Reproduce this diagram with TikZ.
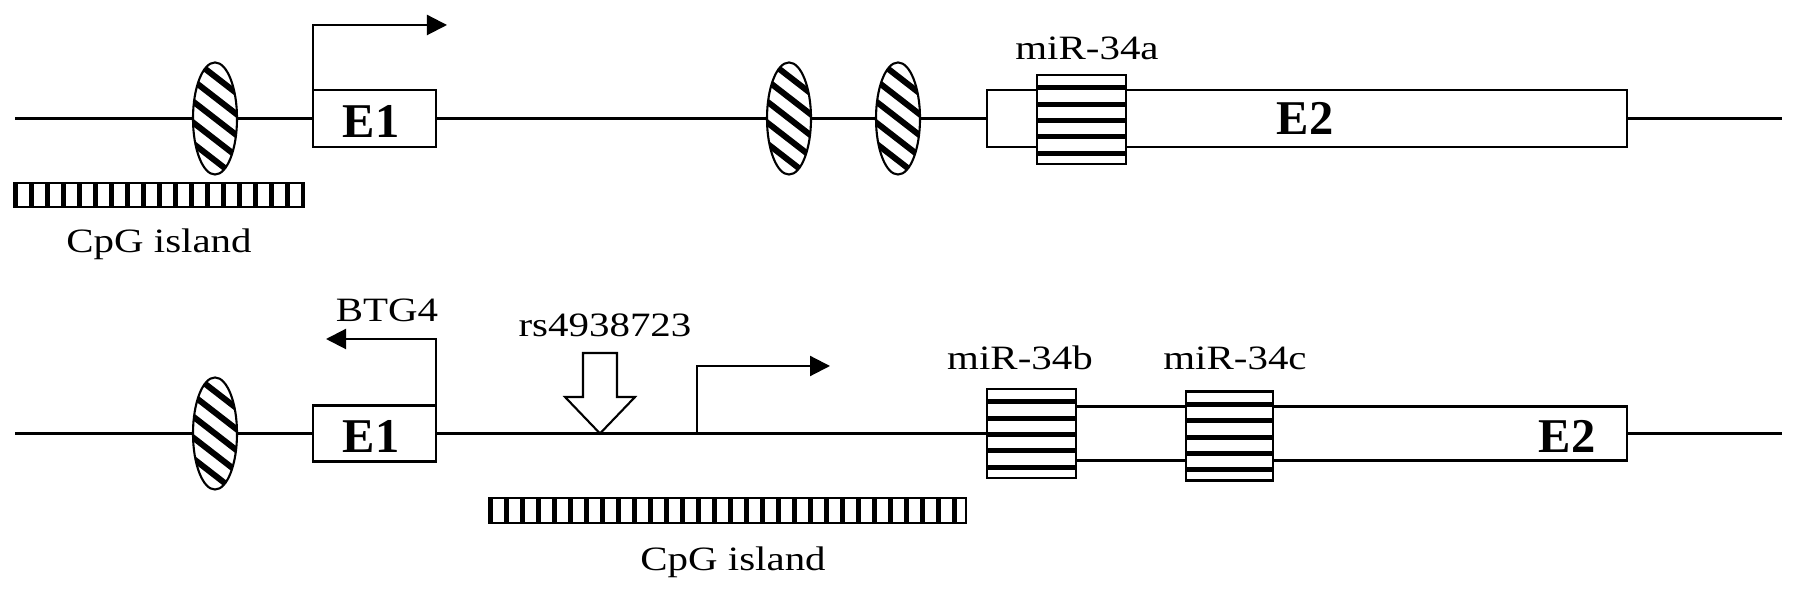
\documentclass[tikz,border=0pt]{standalone}
\usepackage{fontspec}
\setmainfont{Liberation Serif}
\usetikzlibrary{shapes.geometric,arrows.meta,calc}
\newcommand{\lbl}[1]{\scalebox{1.2}[1]{\fontsize{9.7}{11}\selectfont #1}}
\newcommand{\exon}[1]{{\fontsize{13.8}{16}\selectfont\bfseries #1}}
\begin{document}
\begin{tikzpicture}[x=0.01cm,y=-0.01cm,line width=0.6pt,
  gene/.style={draw,fill=white,inner sep=0pt,outer sep=0pt},
  meth/.style={ellipse,draw,fill=white,inner sep=0pt,outer sep=0pt,
    minimum width=0.44cm,minimum height=1.12cm,
    path picture={\begin{scope}[shift={(path picture bounding box.center)}]
      \foreach \k in {-5,...,5} \draw[line width=0.06cm] (-40,\k*21-31) -- (40,\k*21+31);
      \end{scope}}},
  mir/.style={draw,fill=white,inner sep=0pt,outer sep=0pt,minimum width=0.89cm,minimum height=0.89cm,
    path picture={\foreach \k in {0,...,4} \draw[line width=0.05cm]
      ($(path picture bounding box.north west)+(0,13+16.3*\k)$) -- ++(200,0);}},
  cpg/.style={draw,fill=white,inner sep=0pt,outer sep=0pt,minimum height=0.245cm,
    path picture={\foreach \k in {0,...,#1} \draw[line width=0.055cm]
      ($(path picture bounding box.north west)+(\k*16+1.5,-5)$) -- ++(0,40);}},
  tip/.style={-{Triangle[length=0.2cm,width=0.2cm]}},
  txt/.style={anchor=base,inner sep=0pt}]
\useasboundingbox[fill=white] (0,0) rectangle (1795,592);

% ---------- top gene ----------
\coordinate (L1) at (15,118.5);
\coordinate (R1) at (1782,118.5);
\node[meth] (m1) at (215,118.5) {};
\node[gene,minimum width=1.23cm,minimum height=0.57cm] (E1a) at (374.5,118.5) {};
\node[meth] (m2) at (789,118.5) {};
\node[meth] (m3) at (898,118.5) {};
\node[gene,minimum width=6.4cm,minimum height=0.57cm] (E2a) at (1307,118.5) {};
\node[mir] (mirA) at (1081.5,119.5) {};
\draw (L1) -- (m1) (m1) -- (E1a) (E1a) -- (m2) (m2) -- (m3) (m3) -- (E2a) (E2a) -- (R1);
\node[txt] (e1at) at (371,138) {\exon{E1}};
\node[txt] (e2at) at (1305,135) {\exon{E2}};
\coordinate (tss1) at (447,25);
\draw[tip] (E1a.north west) |- (tss1);
\node[cpg=18,minimum width=2.9cm] (cpg1) at (159,195) {};
\node[txt] (cpg1t) at (159,253) {\lbl{CpG island}};
\node[txt] (mirAt) at (1087,60) {\lbl{miR-34a}};

% ---------- bottom gene ----------
\coordinate (L2) at (15,433.5);
\coordinate (R2) at (1782,433.5);
\node[meth] (m4) at (215,433.5) {};
\node[gene,minimum width=1.23cm,minimum height=0.56cm] (E1b) at (374.5,433.5) {};
\node[gene,minimum width=6.4cm,minimum height=0.54cm] (E2b) at (1307,433.5) {};
\node[mir] (mirB) at (1031.5,433.5) {};
\node[mir,minimum width=0.87cm] (mirC) at (1229.5,436) {};
\draw (L2) -- (m4) (m4) -- (E1b) (E1b) -- (E2b) (E2b) -- (R2);
\node[txt] (e1bt) at (371,453) {\exon{E1}};
\node[txt] (e2bt) at (1567,453) {\exon{E2}};
\coordinate (btg) at (326,339);
\draw[tip] (E1b.north east) |- (btg);
\node[txt] (btgt) at (387,322) {\lbl{BTG4}};
% SNP arrow
\coordinate (snp) at (600,433.5);
\draw[fill=white,line join=miter] (snp) -- (635,397) -- (617,397) -- (617,353) -- (583,353) -- (583,397) -- (565,397) -- cycle;
\node[txt] (snpt) at (605,337) {\lbl{rs4938723}};
\coordinate (p2) at (697,433.5);
\coordinate (tss2) at (830,366);
\draw[tip] (p2) |- (tss2);
\node[cpg=30,minimum width=4.77cm] (cpg2) at (727.5,510.5) {};
\node[txt] (cpg2t) at (733,571) {\lbl{CpG island}};
\node[txt] (mirBt) at (1020,370) {\lbl{miR-34b}};
\node[txt] (mirCt) at (1235,370) {\lbl{miR-34c}};
\end{tikzpicture}
\end{document}
